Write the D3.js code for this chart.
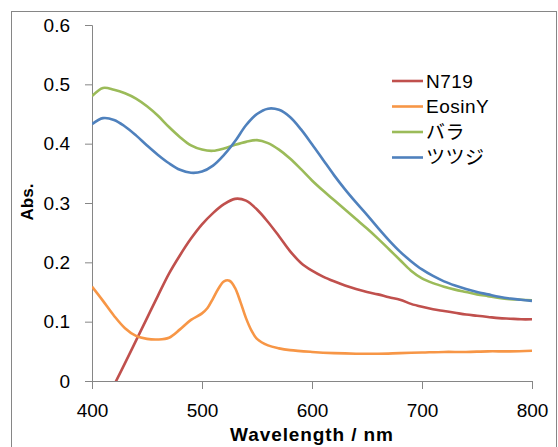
<!DOCTYPE html>
<html>
<head>
<meta charset="utf-8">
<script src="https://cdn.jsdelivr.net/npm/d3@7"></script>
<style>
  body { margin: 0; background: #fff; }
  svg { display: block; }
</style>
</head>
<body>
<div id="chart"></div>
<script>
// wavelength grid (nm) shared by N719, バラ, ツツジ
const wavelengths = [400,410,420,430,440,450,460,470,480,490,500,510,520,530,540,550,560,570,580,590,
  600,610,620,630,640,650,660,670,680,690,700,710,720,730,740,750,760,770,780,790,800];

const n719 = [null,null,-0.007,0.030,0.068,0.106,0.144,0.181,0.212,0.240,0.264,0.283,0.298,0.307,0.304,0.289,0.268,0.244,0.219,0.199,
  0.186,0.176,0.168,0.161,0.155,0.150,0.146,0.141,0.137,0.130,0.125,0.121,0.118,0.115,0.112,0.110,0.108,0.106,0.105,0.104,0.104];

const bara = [0.480,0.494,0.491,0.485,0.476,0.463,0.447,0.428,0.411,0.397,0.390,0.388,0.392,0.398,0.403,0.406,0.401,0.390,0.375,0.357,
  0.338,0.321,0.305,0.289,0.273,0.257,0.240,0.222,0.204,0.186,0.173,0.165,0.159,0.154,0.150,0.146,0.143,0.140,0.138,0.137,0.136];

const tsutsuji = [0.433,0.443,0.440,0.429,0.414,0.397,0.381,0.367,0.356,0.351,0.353,0.363,0.381,0.404,0.431,0.450,0.459,0.457,0.445,0.424,
  0.399,0.373,0.347,0.323,0.301,0.280,0.258,0.237,0.218,0.202,0.188,0.177,0.168,0.161,0.155,0.150,0.146,0.142,0.139,0.137,0.135];

// EosinY has a sharp peak, so it is read on a finer grid there
const eosinWl = [400,410,420,430,440,450,460,470,480,490,500,505,510,515,520,525,530,535,540,545,550,560,570,580,
  600,620,640,660,680,700,720,740,760,780,800];
const eosinY = [0.159,0.135,0.110,0.089,0.076,0.071,0.070,0.073,0.087,0.103,0.114,0.123,0.139,0.156,0.168,0.169,0.157,0.133,0.106,0.085,0.071,0.060,0.055,0.052,
  0.049,0.047,0.046,0.046,0.047,0.048,0.049,0.049,0.050,0.050,0.051];

const xTicks = [400,500,600,700,800];
const yTicks = [0,0.1,0.2,0.3,0.4,0.5,0.6];

const series = [
  { name: "N719", x: wavelengths, y: n719, color: "#C0504D" },
  { name: "EosinY", x: eosinWl, y: eosinY, color: "#F79646" },
  { name: "バラ", x: wavelengths, y: bara, color: "#9BBB59" },
  { name: "ツツジ", x: wavelengths, y: tsutsuji, color: "#4F81BD" }
];

const W = 558, H = 447;
const axisColor = "#868686";
const font = "'Liberation Sans', Arial, 'Noto Sans CJK JP', sans-serif";

const svg = d3.select("#chart").append("svg")
  .attr("width", W)
  .attr("height", H);

// outer chart border
svg.append("rect")
  .attr("x", 11.5).attr("y", 11.5)
  .attr("width", 545).attr("height", 445)
  .attr("fill", "#fff")
  .attr("stroke", axisColor)
  .attr("stroke-width", 1);

const x = d3.scaleLinear().domain([400, 800]).range([92, 532]);
const y = d3.scaleLinear().domain([0, 0.6]).range([381, 25]);

svg.append("defs").append("clipPath")
  .attr("id", "plotClip")
  .append("rect")
  .attr("x", x(400)).attr("y", y(0.6))
  .attr("width", x(800) - x(400)).attr("height", y(0) - y(0.6));

// y axis
const yAxis = svg.append("g")
  .attr("transform", `translate(${x(400)},0)`)
  .call(d3.axisLeft(y).tickValues(yTicks).tickSize(7).tickPadding(15)
    .tickFormat(d => d === 0 ? "0" : d3.format(".1f")(d)));

// x axis
const xAxis = svg.append("g")
  .attr("transform", `translate(0,${y(0)})`)
  .call(d3.axisBottom(x).tickValues(xTicks).tickSize(8).tickPadding(15));

[yAxis, xAxis].forEach(g => {
  g.select(".domain").attr("stroke", axisColor).attr("stroke-width", 1);
  g.selectAll(".tick line").attr("stroke", axisColor);
  g.selectAll(".tick text")
    .attr("fill", "#000")
    .style("font-family", font)
    .style("font-size", "19px");
});

// curves
const plot = svg.append("g").attr("clip-path", "url(#plotClip)");

const line = d3.line()
  .defined(d => d[1] !== null)
  .x(d => x(d[0]))
  .y(d => y(d[1]))
  .curve(d3.curveCatmullRom.alpha(0.5));

series.forEach(s => {
  const pts = s.x.map((w, i) => [w, s.y[i]]);
  plot.append("path")
    .datum(pts)
    .attr("fill", "none")
    .attr("stroke", s.color)
    .attr("stroke-width", 2.6)
    .attr("stroke-linejoin", "round")
    .attr("d", line);
});

// axis titles
svg.append("text")
  .attr("transform", "translate(33,202) rotate(-90)")
  .attr("text-anchor", "middle")
  .style("font-family", font)
  .style("font-size", "17px")
  .style("font-weight", "bold")
  .text("Abs.");

svg.append("text")
  .attr("x", 312)
  .attr("y", 441)
  .attr("text-anchor", "middle")
  .style("font-family", font)
  .style("font-size", "19px")
  .style("font-weight", "bold")
  .style("letter-spacing", "0.9px")
  .text("Wavelength / nm");

// legend
const legend = svg.append("g").attr("transform", "translate(392,81)");
series.forEach((s, i) => {
  const row = legend.append("g").attr("transform", `translate(0,${i * 25.5})`);
  row.append("line")
    .attr("x1", 0).attr("x2", 31)
    .attr("stroke", s.color)
    .attr("stroke-width", 2.6);
  row.append("text")
    .attr("x", 34)
    .attr("y", 0)
    .attr("dy", "0.36em")
    .style("font-family", font)
    .style("font-size", "19px")
    .style("letter-spacing", "0.5px")
    .text(s.name);
});
</script>
</body>
</html>
